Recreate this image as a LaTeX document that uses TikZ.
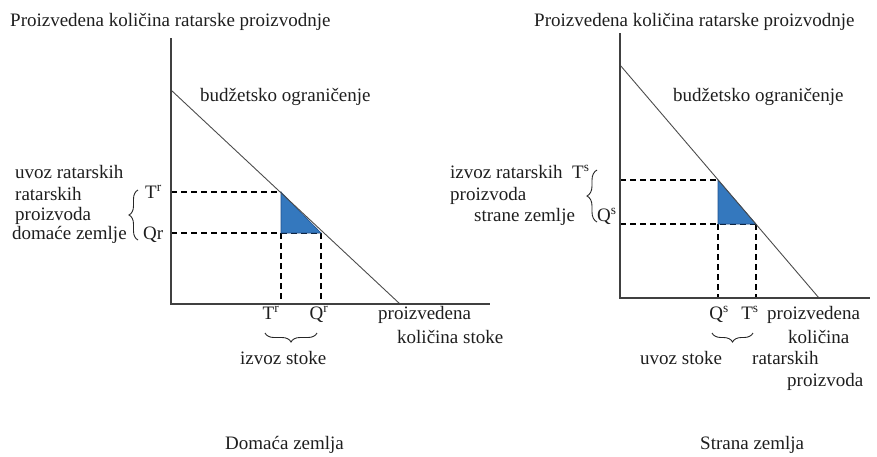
\documentclass[tikz,border=0pt]{standalone}
\usepackage{fontspec}
\setmainfont{Liberation Serif}
\usetikzlibrary{decorations.pathreplacing}
\definecolor{areablue}{RGB}{52,120,190}
\definecolor{areaedge}{RGB}{30,80,140}
\definecolor{inkc}{RGB}{30,30,30}
\begin{document}
\begin{tikzpicture}[x=1pt,y=-1pt,
 txt/.style={inner sep=0pt, anchor=base west, font=\fontsize{19}{21}\selectfont, text=inkc},
 ctxt/.style={inner sep=0pt, anchor=base, font=\fontsize{19}{21}\selectfont, text=inkc},
 axisline/.style={draw=black!75, line width=1.4pt},
 budget/.style={draw=black!70, line width=0.9pt},
 guide/.style={draw=black, line width=1.2pt, dash pattern=on 6pt off 4pt},
 gain/.style={fill=areablue, draw=areaedge, line width=0.6pt},
 curly/.style={draw=black!85, line width=0.9pt, decorate, decoration={brace, amplitude=#1}},
]
\useasboundingbox (0,0) rectangle (877,456);

% ---------------- left panel ----------------
\coordinate (LT) at (171,38);
\coordinate (LO) at (171,304);
\coordinate (LR) at (490,304);
\coordinate (LB1) at (171,90);
\coordinate (LB2) at (400,304);
\coordinate (LA) at (281,192);
\coordinate (LC) at (281,233);
\coordinate (LD) at (321,233);
\coordinate (LyT) at (171,192);
\coordinate (LyQ) at (171,233);
\coordinate (LxT) at (281,304);
\coordinate (LxQ) at (321,304);

\draw[guide] (LyT) -- (LA);
\draw[guide] (LyQ) -- (LD);
\draw[guide] (LC) -- (LxT);
\draw[guide] (LD) -- (LxQ);
\path[gain] (LA) -- (LC) -- (LD) -- cycle;
\draw[budget] (LB1) -- (LB2);
\draw[axisline] (LT) -- (LO) -- (LR);

\node[txt] (ltitle) at (10,26) {Proizvedena količina ratarske proizvodnje};
\node[txt] (lbud) at (200,101) {budžetsko ograničenje};
\node[txt] (lu1) at (15,178) {uvoz ratarskih};
\node[txt] (lu2) at (15,200) {ratarskih};
\node[txt] (lu3) at (15,220) {proizvoda};
\node[txt] (lu4) at (12,239) {domaće zemlje};
\node[txt] (lTr) at (145,198) {T\textsuperscript{r}};
\node[txt] (lQr) at (143,239) {Qr};
\coordinate (lbrA) at (138,240);
\coordinate (lbrB) at (138,190);
\draw[curly=9pt] (lbrA) -- (lbrB);

\node[ctxt] (lbT) at (271,319) {T\textsuperscript{r}};
\node[ctxt] (lbQ) at (319,319) {Q\textsuperscript{r}};
\coordinate (lhA) at (317,333);
\coordinate (lhB) at (265,333);
\draw[curly=9pt] (lhA) -- (lhB);
\node[txt] (lizv) at (240,364) {izvoz stoke};
\node[txt] (lp1) at (378,319) {proizvedena};
\node[txt] (lp2) at (397,343) {količina stoke};

\node[txt] (lcap) at (225,449) {Domaća zemlja};

% ---------------- right panel ----------------
\coordinate (RT) at (620,33);
\coordinate (RO) at (620,298);
\coordinate (RR) at (870,298);
\coordinate (RB1) at (620,65);
\coordinate (RB2) at (819,298);
\coordinate (RA) at (718,180);
\coordinate (RC) at (718,224);
\coordinate (RD) at (756,224);
\coordinate (RyT) at (620,180);
\coordinate (RyQ) at (620,224);
\coordinate (RxQ) at (718,298);
\coordinate (RxT) at (756,298);

\draw[guide] (RyT) -- (RA);
\draw[guide] (RyQ) -- (RD);
\draw[guide] (RC) -- (RxQ);
\draw[guide] (RD) -- (RxT);
\path[gain] (RA) -- (RC) -- (RD) -- cycle;
\draw[budget] (RB1) -- (RB2);
\draw[axisline] (RT) -- (RO) -- (RR);

\node[txt] (rtitle) at (534,26) {Proizvedena količina ratarske proizvodnje};
\node[txt] (rbud) at (673,101) {budžetsko ograničenje};
\node[txt] (ri1) at (450,178) {izvoz ratarskih};
\node[txt] (ri2) at (450,200) {proizvoda};
\node[txt] (ri3) at (474,221) {strane zemlje};
\node[txt] (rTs) at (572,178) {T\textsuperscript{s}};
\node[txt] (rQs) at (597,221) {Q\textsuperscript{s}};
\coordinate (rbrA) at (597,222);
\coordinate (rbrB) at (597,170);
\draw[curly=10pt] (rbrA) -- (rbrB);

\node[ctxt] (rbQ) at (719,319) {Q\textsuperscript{s}};
\node[ctxt] (rbT) at (750,319) {T\textsuperscript{s}};
\coordinate (rhA) at (753,333);
\coordinate (rhB) at (712,333);
\draw[curly=9pt] (rhA) -- (rhB);
\node[txt] (ruv) at (640,364) {uvoz stoke};
\node[txt] (rp1) at (767,319) {proizvedena};
\node[txt] (rp2) at (788,343) {količina};
\node[txt] (rp3) at (752,364) {ratarskih};
\node[txt] (rp4) at (787,386) {proizvoda};

\node[txt] (rcap) at (700,449) {Strana zemlja};
\end{tikzpicture}
\end{document}
